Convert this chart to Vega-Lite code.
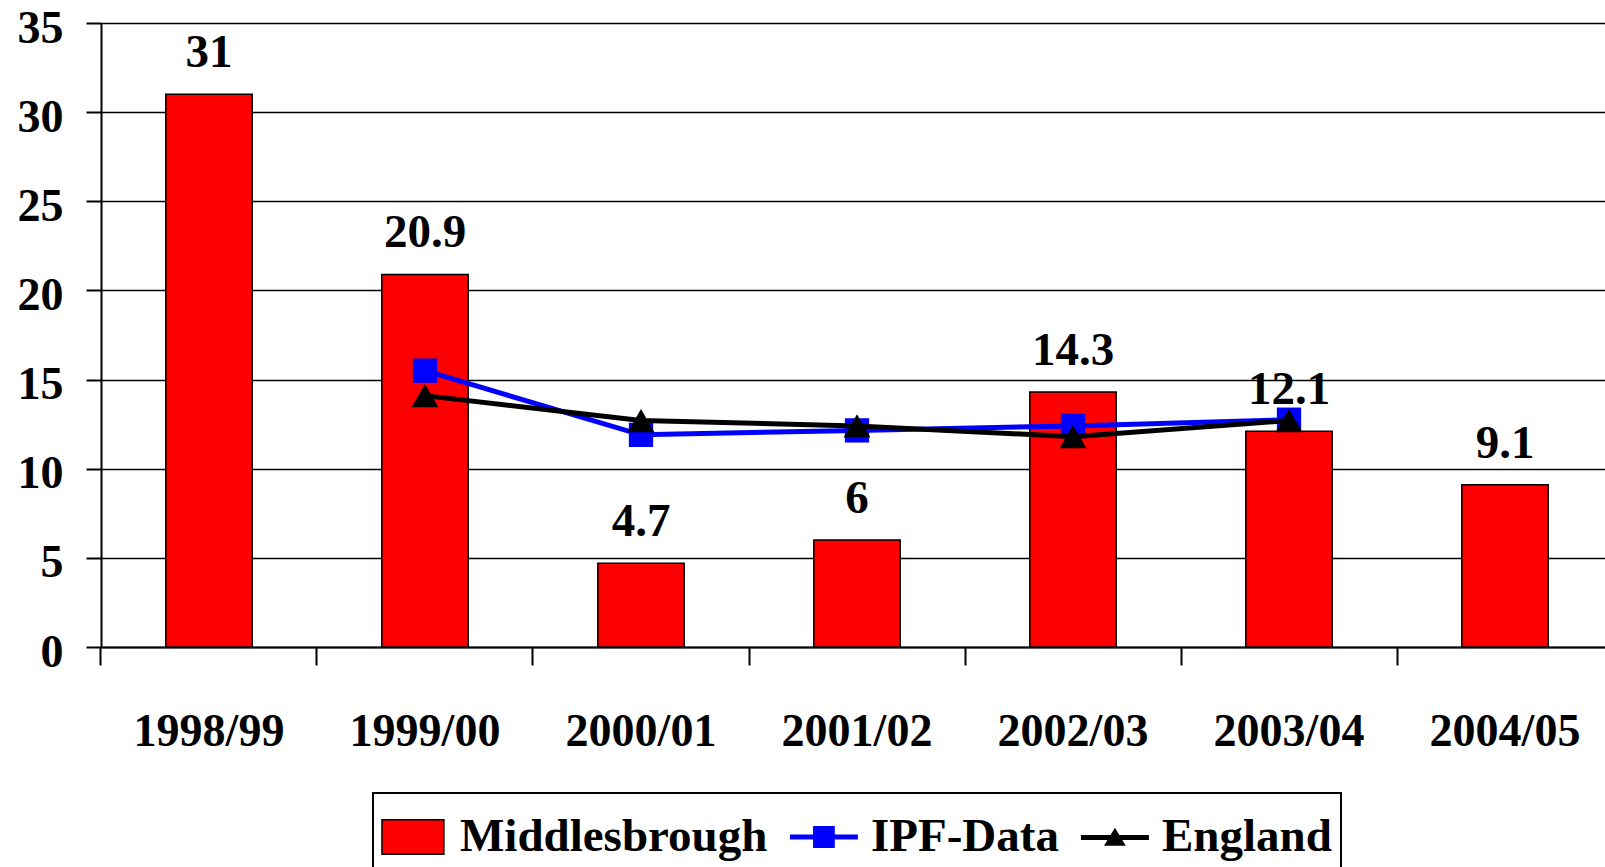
{
  "$schema": "https://vega.github.io/schema/vega-lite/v6.json",
  "width": 1512,
  "height": 624,
  "autosize": {"type": "none"},
  "padding": {"left": 101, "top": 23, "right": 0, "bottom": 220},
  "background": "white",
  "config": {
    "view": {"stroke": null},
    "font": "Liberation Serif"
  },
  "datasets": {
    "bars": [
      {"year": "1998/99", "series": "Middlesbrough", "value": 31},
      {"year": "1999/00", "series": "Middlesbrough", "value": 20.9},
      {"year": "2000/01", "series": "Middlesbrough", "value": 4.7},
      {"year": "2001/02", "series": "Middlesbrough", "value": 6},
      {"year": "2002/03", "series": "Middlesbrough", "value": 14.3},
      {"year": "2003/04", "series": "Middlesbrough", "value": 12.1},
      {"year": "2004/05", "series": "Middlesbrough", "value": 9.1}
    ],
    "ipf": [
      {"year": "1999/00", "series": "IPF-Data", "value": 15.5},
      {"year": "2000/01", "series": "IPF-Data", "value": 11.9},
      {"year": "2001/02", "series": "IPF-Data", "value": 12.15},
      {"year": "2002/03", "series": "IPF-Data", "value": 12.4},
      {"year": "2003/04", "series": "IPF-Data", "value": 12.75}
    ],
    "england": [
      {"year": "1999/00", "series": "England", "value": 14.1},
      {"year": "2000/01", "series": "England", "value": 12.7},
      {"year": "2001/02", "series": "England", "value": 12.4},
      {"year": "2002/03", "series": "England", "value": 11.8},
      {"year": "2003/04", "series": "England", "value": 12.7}
    ],
    "legend": [
      {"series": "Middlesbrough"},
      {"series": "IPF-Data"},
      {"series": "England"}
    ]
  },
  "layer": [
    {
      "data": {"name": "bars"},
      "mark": {"type": "bar", "color": "#FF0000", "stroke": "black", "strokeWidth": 1.5},
      "encoding": {
        "x": {
          "field": "year", "type": "nominal", "title": null,
          "scale": {"paddingInner": 0.6, "paddingOuter": 0.3},
          "axis": {
            "labelAngle": 0, "labelFont": "Liberation Serif", "labelFontSize": 46, "labelFontWeight": "bold",
            "labelColor": "black", "labelPadding": 44, "bandPosition": -0.75, "tickSize": 18,
            "tickColor": "black", "tickWidth": 2, "domainColor": "black", "domainWidth": 2, "grid": false
          }
        },
        "y": {
          "field": "value", "type": "quantitative", "title": null,
          "scale": {"domain": [0, 35], "nice": false},
          "axis": {
            "values": [0, 5, 10, 15, 20, 25, 30, 35],
            "labelFont": "Liberation Serif", "labelFontSize": 46, "labelFontWeight": "bold",
            "labelColor": "black", "labelPadding": 23, "labelOffset": 5, "tickSize": 15,
            "tickColor": "black", "tickWidth": 2, "domainColor": "black", "domainWidth": 2,
            "grid": true, "gridColor": "black", "gridWidth": 1.5, "gridOpacity": 1
          }
        }
      }
    },
    {
      "data": {"name": "bars"},
      "mark": {"type": "text", "font": "Liberation Serif", "fontSize": 47, "fontWeight": "bold", "color": "black", "baseline": "alphabetic", "dy": -27},
      "encoding": {
        "x": {"field": "year", "type": "nominal", "title": null},
        "y": {"field": "value", "type": "quantitative", "title": null},
        "text": {"field": "value", "type": "quantitative"}
      }
    },
    {
      "data": {"name": "ipf"},
      "mark": {"type": "line", "color": "#0000FF", "strokeWidth": 5},
      "encoding": {
        "x": {"field": "year", "type": "nominal", "title": null},
        "y": {"field": "value", "type": "quantitative", "title": null}
      }
    },
    {
      "data": {"name": "ipf"},
      "mark": {"type": "point", "shape": "square", "size": 590, "color": "#0000FF", "filled": true, "opacity": 1},
      "encoding": {
        "x": {"field": "year", "type": "nominal", "title": null},
        "y": {"field": "value", "type": "quantitative", "title": null}
      }
    },
    {
      "data": {"name": "england"},
      "mark": {"type": "line", "color": "#000000", "strokeWidth": 5},
      "encoding": {
        "x": {"field": "year", "type": "nominal", "title": null},
        "y": {"field": "value", "type": "quantitative", "title": null}
      }
    },
    {
      "data": {"name": "england"},
      "mark": {"type": "point", "shape": "triangle-up", "size": 720, "color": "#000000", "filled": true, "opacity": 1},
      "encoding": {
        "x": {"field": "year", "type": "nominal", "title": null},
        "y": {"field": "value", "type": "quantitative", "title": null}
      }
    },
    {
      "data": {"name": "legend"},
      "mark": {"type": "point", "filled": true, "size": 0},
      "encoding": {
        "color": {
          "field": "series", "type": "nominal",
          "scale": {"domain": ["Middlesbrough", "IPF-Data", "England"], "range": ["#FF0000", "#0000FF", "#000000"]},
          "legend": {
            "orient": "none", "legendX": 272, "legendY": 770, "direction": "horizontal", "title": null,
            "labelFont": "Liberation Serif", "labelFontSize": 47, "labelFontWeight": "bold", "labelColor": "black",
            "labelLimit": 600, "labelOffset": 8, "columnPadding": 18, "padding": 9,
            "symbolSize": 4624, "symbolOpacity": 1, "symbolStrokeWidth": 0,
            "strokeColor": "black", "fillColor": "white",
            "encode": {
              "legend": {"update": {"strokeWidth": {"value": 2}}},
              "symbols": {"update": {
                "stroke": {"signal": "datum.value === 'Middlesbrough' ? 'black' : 'transparent'"},
                "strokeWidth": {"value": 1.5}
              }}
            }
          }
        },
        "shape": {
          "field": "series", "type": "nominal",
          "scale": {
            "domain": ["Middlesbrough", "IPF-Data", "England"],
            "range": [
              "M-1.03,-0.51H0.79V0.51H-1.03Z",
              "M-1.12,-0.074H0.88V0.074H-1.12Z M-0.44,-0.32H0.2V0.32H-0.44Z",
              "M-1.12,-0.06H0.88V0.09H-1.12Z M-0.44,0.26L-0.12,-0.27L0.2,0.26Z"
            ]
          }
        }
      }
    }
  ]
}
